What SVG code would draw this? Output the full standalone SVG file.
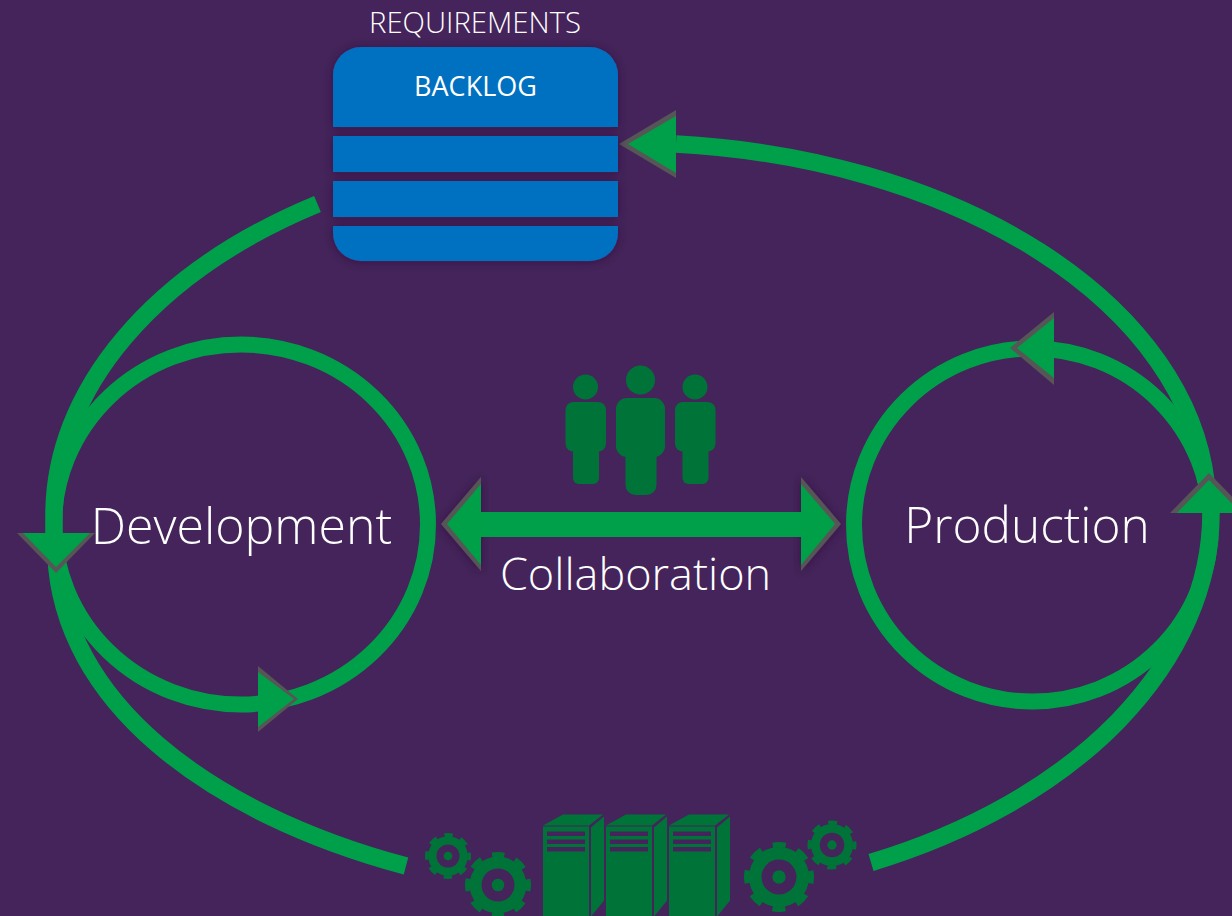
<svg xmlns="http://www.w3.org/2000/svg" width="1232" height="916" viewBox="0 0 1232 916">
<style>
.t{font-family:"Open Sans","Liberation Sans",sans-serif;font-weight:300;fill:#fff;text-anchor:middle}
.ring{fill:none;stroke:#00A04A;stroke-width:16}
.big{fill:none;stroke:#00A04A;stroke-width:17.500}
.head{fill:#00A04A}
.edge{fill:#565656}
.dk{fill:#007438}
.bg{fill:#44245A}
.bar{fill:#0070C0}
</style>
<defs>
<filter id="sh" x="-20%" y="-20%" width="140%" height="140%"><feDropShadow dx="0" dy="1" stdDeviation="5" flood-color="#2a1238" flood-opacity=".6"/></filter>
<g id="gear">
<circle r="86" class="dk"/>
<circle r="92" fill="none" stroke="#007438" stroke-width="16" stroke-dasharray="37 35.25" stroke-dashoffset="18.500"/>
<circle r="50" class="bg"/>
<circle r="19" class="dk"/>
</g>
<g id="person-s">
<circle cx="20" cy="-15" r="12.500" class="dk"/>
<rect x="0" y="0" width="40.500" height="49.500" rx="8" class="dk"/>
<rect x="7.500" y="30" width="26" height="52" rx="6" class="dk"/>
</g>
<g id="server">
<rect x="0" y="12" width="46" height="90" class="dk"/>
<path d="M0 11 20 0H60L46 11Z" class="dk"/>
<path d="M48 13 61 2V86L48 102Z" class="dk"/>
<path d="M4 17H42V21.500H4ZM4 25H42V29.500H4ZM4 32.500H42V37H4Z" class="bg"/>
</g>
</defs>
<rect width="1232" height="916" class="bg"/>
<g id="connectors">
<ellipse class="ring" cx="241" cy="524.500" rx="187" ry="180"/>
<ellipse class="ring" cx="1032.500" cy="525" rx="178.500" ry="176.500"/>
<path class="big" d="M317.500 204A574 370 0 0 0 54 515V533"/>
<path class="big" d="M56 555C62 700 205 812 406 866"/>
<path class="big" d="M1206 482A581 367 0 0 0 676 144"/>
<path class="big" d="M871 862.500A581 385 0 0 0 1211 513"/>
<g id="arrow-top"><polygon class="edge" points="619,144 676,110 676,178"/><polygon class="head" points="628,144 676,116 676,173"/></g>
<g id="arrow-left"><polygon class="edge" points="17,533 95,533 56,573"/><polygon class="head" points="23,533 90,533 56,567"/></g>
<g id="arrow-right"><polygon class="edge" points="1170,513 1248,513 1209,473"/><polygon class="head" points="1177,513 1241,513 1209,480"/></g>
<g id="arrow-dev"><polygon class="edge" points="258,666 298,699 258,732"/><polygon class="head" points="258,672 294,699 258,727"/></g>
<g id="arrow-prod"><polygon class="edge" points="1054,312 1010,348 1054,385"/><polygon class="head" points="1054,318 1017,348 1054,378"/></g>
<g id="arrow-mid-l" filter="url(#sh)"><polygon class="edge" points="481,477 441,524 481,571"/><polygon class="head" points="481,484 447,524 481,565"/></g>
<g id="arrow-mid-r" filter="url(#sh)"><polygon class="edge" points="801,477 841,524 801,571"/><polygon class="head" points="801,484 835,524 801,565"/></g>
<rect x="481" y="512" width="320" height="25" fill="#00A04A"/>
</g>
<g id="backlog" filter="url(#sh)">
<path class="bar" d="M333 127V75A28 28 0 0 1 361 47H590A28 28 0 0 1 618 75V127Z"/>
<rect class="bar" x="333" y="136" width="285" height="36"/>
<rect class="bar" x="333" y="181" width="285" height="36"/>
<path class="bar" d="M333 226H618V233A28 28 0 0 1 590 261H361A28 28 0 0 1 333 233Z"/>
</g>
<g id="labels-backlog">
<text class="t" x="475" y="33" font-size="29.300">REQUIREMENTS</text>
<text class="t" x="475.500" y="96" font-size="27" style="font-weight:400">BACKLOG</text>
</g>
<g id="development"><text class="t" x="241.500" y="544" font-size="50">Development</text></g>
<g id="production"><text class="t" x="1027" y="543" font-size="49.500">Production</text></g>
<g id="collaboration"><text class="t" x="635.500" y="590" font-size="45">Collaboration</text></g>
<g id="people">
<use href="#person-s" x="565.500" y="402"/>
<use href="#person-s" x="675" y="402"/>
<circle cx="640.500" cy="380" r="14.500" class="dk"/>
<rect x="616" y="398" width="49" height="59" rx="11" class="dk"/>
<rect x="625.500" y="440" width="31" height="55" rx="10" class="dk"/>
</g>
<g id="servers">
<use href="#server" x="543" y="814.500"/>
<use href="#server" x="606" y="814.500"/>
<use href="#server" x="669" y="814.500"/>
</g>
<g id="gears">
<use href="#gear" transform="translate(448 856) scale(.23)"/>
<use href="#gear" transform="translate(498 885) scale(.33)"/>
<use href="#gear" transform="translate(779 877) scale(.35)"/>
<use href="#gear" transform="translate(832 845) scale(.245)"/>
</g>
</svg>
